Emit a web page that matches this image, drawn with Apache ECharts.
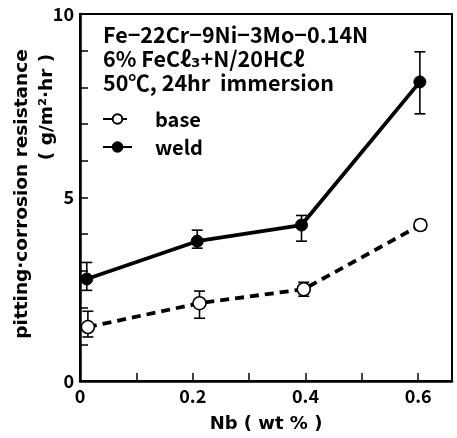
<!DOCTYPE html>
<html><head><meta charset="utf-8">
<script src="https://cdn.jsdelivr.net/npm/echarts@6/dist/echarts.min.js"></script>
<style>html,body{margin:0;padding:0;background:#fff}#c{width:457px;height:438px}</style>
</head><body><div id="c"></div>
<script>
// ---- data ----
var baseX = [0.014, 0.212, 0.397, 0.604];
var baseY = [1.47, 2.12, 2.50, 4.25];
var baseLo = [1.20, 1.71, 2.31, 4.12];
var baseHi = [1.90, 2.45, 2.69, 4.38];
var weldX = [0.012, 0.208, 0.393, 0.603];
var weldY = [2.78, 3.81, 4.25, 8.15];
var weldLo = [2.47, 3.62, 3.81, 7.28];
var weldHi = [3.23, 4.11, 4.51, 8.97];
var xTickLabels = ['0', '0.2', '0.4', '0.6'];
var yTickLabels = ['0', '5', '10'];
var noteLines = ['Fe\u221222Cr\u22129Ni\u22123Mo\u22120.14N', '6% FeC\u2113\u2083+N/20HC\u2113', '50\u2103, 24hr  immersion'];
var seriesNames = ['base', 'weld'];

var FONT = '"Noto Sans CJK JP", "DejaVu Sans", sans-serif';
var WIDE = '"DejaVu Sans", sans-serif';
function pair(xs, ys) { return xs.map(function (x, i) { return [x, ys[i]]; }); }
function errData(xs, lo, hi) { return xs.map(function (x, i) { return [x, lo[i], hi[i]]; }); }

function errRender(params, api) {
  var x = api.value(0);
  var p1 = api.coord([x, api.value(1)]);
  var p2 = api.coord([x, api.value(2)]);
  var w = 5.5;
  var st = { stroke: '#000', lineWidth: 1.6 };
  return { type: 'group', children: [
    { type: 'line', shape: { x1: p1[0], y1: p1[1], x2: p2[0], y2: p2[1] }, style: st },
    { type: 'line', shape: { x1: p1[0] - w, y1: p1[1], x2: p1[0] + w, y2: p1[1] }, style: st },
    { type: 'line', shape: { x1: p2[0] - w, y1: p2[1], x2: p2[0] + w, y2: p2[1] }, style: st }
  ] };
}

var chart = echarts.init(document.getElementById('c'), null, { renderer: 'canvas' });
var option = {
  backgroundColor: '#fff',
  animation: false,
  grid: { left: 80, right: 5, top: 14, bottom: 56, show: true, borderColor: '#000', borderWidth: 2 },
  xAxis: {
    type: 'value', min: 0, max: 0.66, interval: 0.1,
    axisLine: { lineStyle: { color: '#000', width: 2.5 } },
    axisTick: { inside: true, length: 8, lineStyle: { color: '#000', width: 1.5 } },
    splitLine: { show: false },
    axisLabel: {
      color: '#000', fontFamily: FONT, fontWeight: 'bold', fontSize: 18, margin: 6, showMaxLabel: false,
      formatter: function (v) {
        var s = String(Math.round(v * 10) / 10);
        return xTickLabels.indexOf(s) >= 0 ? s : '';
      }
    },
    name: 'Nb ( wt % )', nameLocation: 'middle', nameGap: 34,
    nameTextStyle: { color: '#000', fontFamily: WIDE, fontWeight: 'bold', fontSize: 18 }
  },
  yAxis: {
    type: 'value', min: 0, max: 10, interval: 1,
    axisLine: { lineStyle: { color: '#000', width: 2.5 } },
    axisTick: { inside: true, length: 8, lineStyle: { color: '#000', width: 1.5 } },
    splitLine: { show: false },
    axisLabel: {
      color: '#000', fontFamily: FONT, fontWeight: 'bold', fontSize: 18, margin: 6,
      formatter: function (v) { var s = String(v); return yTickLabels.indexOf(s) >= 0 ? s : ''; }
    }
  },
  legend: {
    orient: 'vertical', left: 97, top: 104, itemGap: 8, itemWidth: 29, itemHeight: 12,
    textStyle: { color: '#000', fontFamily: FONT, fontWeight: 'bold', fontSize: 20, padding: [0, 0, 0, 18] },
    data: seriesNames
  },
  graphic: [
    { type: 'text', left: 103, top: 24, style: { text: noteLines[0], font: 'bold 21.5px ' + FONT, fill: '#000' } },
    { type: 'text', left: 103, top: 48, style: { text: noteLines[1], font: 'bold 21.5px ' + FONT, fill: '#000' } },
    { type: 'text', left: 103, top: 72, style: { text: noteLines[2], font: 'bold 21.5px ' + FONT, fill: '#000' } },
    { type: 'text', x: 22, y: 194, rotation: Math.PI / 2, style: { text: 'pitting\u00b7corrosion resistance', font: 'bold 18.5px ' + WIDE, fill: '#000', align: 'center', verticalAlign: 'middle' } },
    { type: 'text', x: 47, y: 107, rotation: Math.PI / 2, style: { text: '( g/m\u00b2\u00b7hr )', font: 'bold 18.5px ' + WIDE, fill: '#000', align: 'center', verticalAlign: 'middle' } }
  ],
  series: [
    { type: 'custom', renderItem: errRender, data: errData(baseX, baseLo, baseHi), z: 1, silent: true },
    { type: 'custom', renderItem: errRender, data: errData(weldX, weldLo, weldHi), z: 1, silent: true },
    {
      name: seriesNames[0], type: 'line', data: pair(baseX, baseY), z: 3,
      lineStyle: { color: '#000', width: 3.8, type: [9, 6] },
      symbol: 'circle', symbolSize: 13,
      itemStyle: { color: '#fff', borderColor: '#000', borderWidth: 1.6 }
    },
    {
      name: seriesNames[1], type: 'line', data: pair(weldX, weldY), z: 3,
      lineStyle: { color: '#000', width: 3.8 },
      symbol: 'circle', symbolSize: 12,
      itemStyle: { color: '#000', borderColor: '#000', borderWidth: 1 }
    }
  ]
};
chart.setOption(option);
</script></body></html>
